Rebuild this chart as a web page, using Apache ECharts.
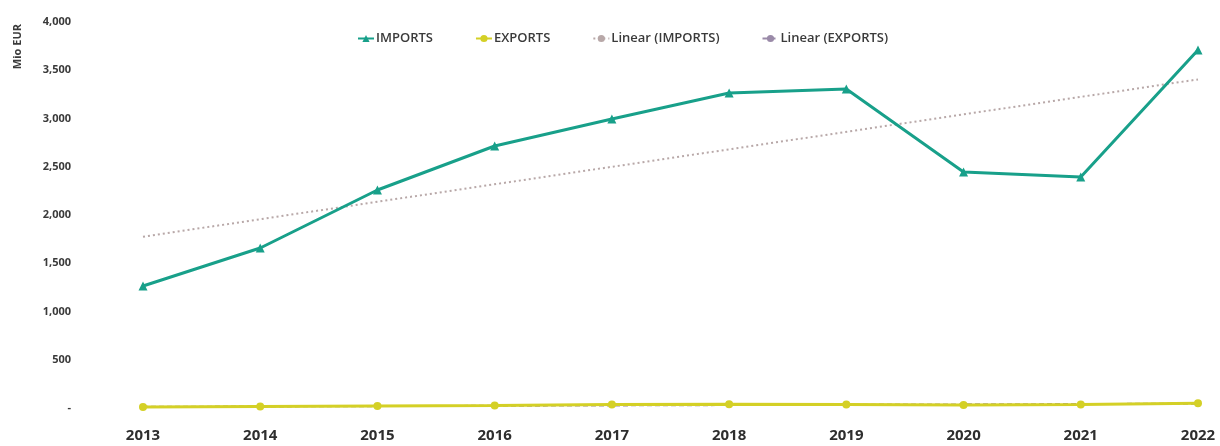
<!DOCTYPE html>
<html><head><meta charset="utf-8">
<script src="https://cdn.jsdelivr.net/npm/echarts@6/dist/echarts.min.js"></script>
<style>html,body{margin:0;padding:0;background:#fff}#c{width:1220px;height:446px}</style>
</head><body><div id="c"></div>
<script>
const years = ['2013','2014','2015','2016','2017','2018','2019','2020','2021','2022'];
const imports = [1264, 1658, 2259, 2715, 2995, 3264, 3306, 2446, 2394, 3710];
const exports_ = [10, 15, 20, 25, 35, 40, 35, 30, 35, 50];
const trendImports = [1775, null, null, null, null, null, null, null, null, 3405];
const trendExports = [12, null, null, null, null, null, null, null, null, 45];
const yAxisTitle = 'Mio EUR';

const chart = echarts.init(document.getElementById('c'));
const font = '"Open Sans", sans-serif';
chart.setOption({
  animation: false,
  textStyle: {fontFamily: font},
  graphic: [{
    type: 'text', left: 12, top: 24, rotation: Math.PI / 2,
    style: {text: yAxisTitle, fill: '#3a3a3a', font: '700 11px "Open Sans", sans-serif'}
  }],
  legend: {
    top: 27, left: 352, itemGap: 42, itemWidth: 16, itemHeight: 9,
    textStyle: {color: '#3a3a3a', fontSize: 13, fontWeight: 600, fontFamily: font, padding: [0, 0, 0, -3]},
    data: ['IMPORTS', 'EXPORTS', 'Linear (IMPORTS)', 'Linear (EXPORTS)']
  },
  grid: {left: 143, right: 22, top: 22, bottom: 38},
  xAxis: {
    type: 'category', data: years, boundaryGap: false,
    axisLine: {show: false}, axisTick: {show: false},
    axisLabel: {color: '#2e2e2e', fontSize: 15, fontWeight: 700, margin: 20, fontFamily: font}
  },
  yAxis: {
    type: 'value', min: 0, max: 4000, interval: 500,
    splitLine: {show: false}, axisLine: {show: false}, axisTick: {show: false},
    axisLabel: {color: '#3a3a3a', fontSize: 11, fontWeight: 700, margin: 72, align: 'right',
      formatter: v => v === 0 ? '-' : v.toLocaleString('en-US')}
  },
  series: [
    {name: 'IMPORTS', type: 'line', data: imports, symbol: 'triangle', symbolSize: 9,
      lineStyle: {color: '#18a08a', width: 3}, itemStyle: {color: '#18a08a'}, z: 3},
    {name: 'EXPORTS', type: 'line', data: exports_, symbol: 'circle', symbolSize: 8,
      lineStyle: {color: '#d4d026', width: 3}, itemStyle: {color: '#d4d026'}, z: 2},
    {name: 'Linear (IMPORTS)', type: 'line', data: trendImports, connectNulls: true, symbol: 'none',
      lineStyle: {color: '#b8a8a8', width: 2, type: [2, 3]}, itemStyle: {color: '#b8a8a8'}, z: 1},
    {name: 'Linear (EXPORTS)', type: 'line', data: trendExports, connectNulls: true, symbol: 'none',
      lineStyle: {color: '#9a8aa8', width: 2, type: [5, 3]}, itemStyle: {color: '#9a8aa8'}, z: 1}
  ]
});
</script></body></html>
